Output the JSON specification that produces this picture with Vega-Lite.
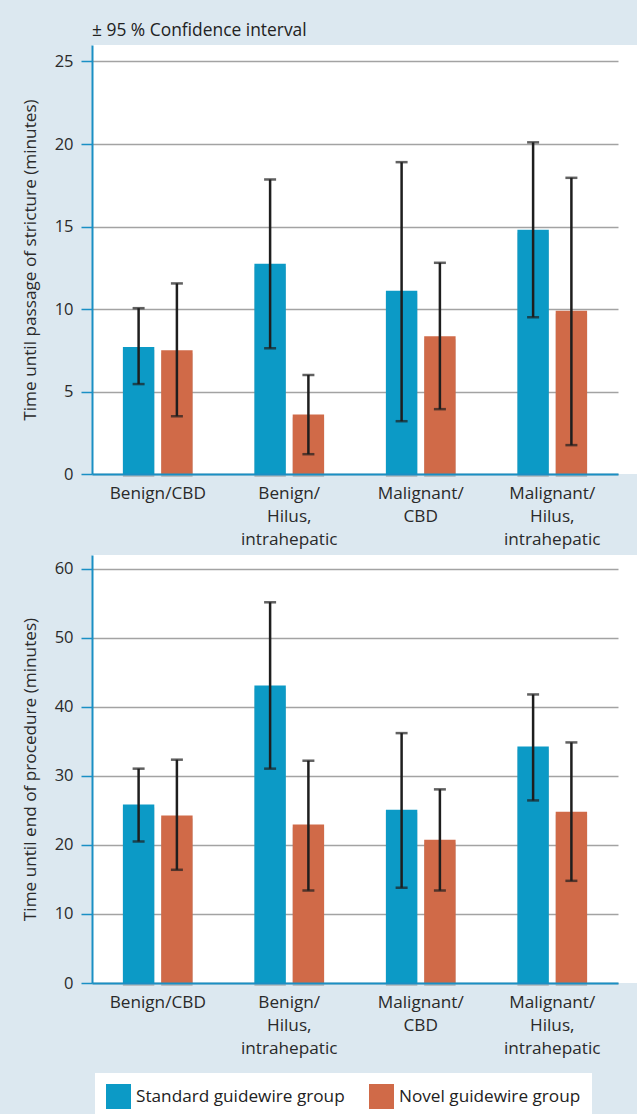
{
  "$schema": "https://vega.github.io/schema/vega-lite/v6.json",
  "background": "#dce8f0",
  "padding": {"left": 21, "top": 21, "right": 0, "bottom": 0},
  "datasets": {
    "bars": [
      {"panel": "A", "category": "Benign/CBD", "group": "Standard guidewire group", "mean": 7.7, "low": 5.45, "high": 10.05},
      {"panel": "A", "category": "Benign/CBD", "group": "Novel guidewire group", "mean": 7.5, "low": 3.5, "high": 11.55},
      {"panel": "A", "category": "Benign/\nHilus,\nintrahepatic", "group": "Standard guidewire group", "mean": 12.75, "low": 7.62, "high": 17.85},
      {"panel": "A", "category": "Benign/\nHilus,\nintrahepatic", "group": "Novel guidewire group", "mean": 3.6, "low": 1.2, "high": 6.0},
      {"panel": "A", "category": "Malignant/\nCBD", "group": "Standard guidewire group", "mean": 11.1, "low": 3.2, "high": 18.9},
      {"panel": "A", "category": "Malignant/\nCBD", "group": "Novel guidewire group", "mean": 8.35, "low": 3.93, "high": 12.8},
      {"panel": "A", "category": "Malignant/\nHilus,\nintrahepatic", "group": "Standard guidewire group", "mean": 14.8, "low": 9.5, "high": 20.1},
      {"panel": "A", "category": "Malignant/\nHilus,\nintrahepatic", "group": "Novel guidewire group", "mean": 9.9, "low": 1.75, "high": 17.95},
      {"panel": "B", "category": "Benign/CBD", "group": "Standard guidewire group", "mean": 25.85, "low": 20.5, "high": 31.05},
      {"panel": "B", "category": "Benign/CBD", "group": "Novel guidewire group", "mean": 24.25, "low": 16.4, "high": 32.35},
      {"panel": "B", "category": "Benign/\nHilus,\nintrahepatic", "group": "Standard guidewire group", "mean": 43.1, "low": 31.05, "high": 55.15},
      {"panel": "B", "category": "Benign/\nHilus,\nintrahepatic", "group": "Novel guidewire group", "mean": 22.95, "low": 13.4, "high": 32.2},
      {"panel": "B", "category": "Malignant/\nCBD", "group": "Standard guidewire group", "mean": 25.1, "low": 13.8, "high": 36.2},
      {"panel": "B", "category": "Malignant/\nCBD", "group": "Novel guidewire group", "mean": 20.75, "low": 13.4, "high": 28.05},
      {"panel": "B", "category": "Malignant/\nHilus,\nintrahepatic", "group": "Standard guidewire group", "mean": 34.25, "low": 26.45, "high": 41.8},
      {"panel": "B", "category": "Malignant/\nHilus,\nintrahepatic", "group": "Novel guidewire group", "mean": 24.8, "low": 14.8, "high": 34.85}
    ]
  },
  "spacing": 81,
  "bounds": "flush",
  "vconcat": [
    {
      "width": 545,
      "height": 429,
      "title": {"text": "± 95 % Confidence interval", "anchor": "start", "frame": "group", "offset": 7, "dy": 15, "baseline": "alphabetic", "fontSize": 17.4, "fontWeight": "normal", "color": "#222222", "font": "Open Sans"},
      "data": {"name": "bars"},
      "transform": [{"filter": "datum.panel === 'A'"}],
      "encoding": {
        "x": {"field": "category", "type": "nominal", "sort": ["Benign/CBD", "Benign/\nHilus,\nintrahepatic", "Malignant/\nCBD", "Malignant/\nHilus,\nintrahepatic"],
              "scale": {"range": [0, 526], "paddingInner": 0.47, "paddingOuter": 0.235},
              "axis": {"title": null, "labelAngle": 0, "ticks": false, "labelExpr": "split(datum.label, '\\n')", "labelLineHeight": 23, "labelPadding": 10, "labelFontSize": 17.2, "zindex": 1}},
        "xOffset": {"field": "group", "type": "nominal", "sort": ["Standard guidewire group", "Novel guidewire group"], "scale": {"paddingInner": 0.18, "paddingOuter": 0}}
      },
      "layer": [
        {"mark": {"type": "bar", "color": "#8c8c8c", "opacity": 0.45, "xOffset": 3, "yOffset": 3},
         "encoding": {"y": {"field": "mean", "type": "quantitative"}}},
        {"mark": {"type": "bar"},
         "encoding": {
           "y": {"field": "mean", "type": "quantitative", "scale": {"domain": [0, 26], "nice": false},
                 "axis": {"title": "Time until passage of stricture (minutes)", "values": [0, 5, 10, 15, 20, 25]}},
           "color": {"field": "group", "type": "nominal", "sort": ["Standard guidewire group", "Novel guidewire group"],
                     "scale": {"range": ["#0c9ac6", "#d06a48"]},
                     "legend": {"title": null, "orient": "none", "legendX": 3, "legendY": 1028, "direction": "horizontal"}}
         }},
        {"mark": {"type": "rule", "color": "#1e1e1e", "strokeWidth": 2.5},
         "encoding": {"y": {"field": "low", "type": "quantitative"}, "y2": {"field": "high"}}},
        {"mark": {"type": "tick", "color": "#1e1e1e", "size": 12, "thickness": 2.5},
         "encoding": {"y": {"field": "low", "type": "quantitative"}}},
        {"mark": {"type": "tick", "color": "#1e1e1e", "size": 12, "thickness": 2.5},
         "encoding": {"y": {"field": "high", "type": "quantitative"}}}
      ]
    },
    {
      "width": 545,
      "height": 428,
      "data": {"name": "bars"},
      "transform": [{"filter": "datum.panel === 'B'"}],
      "encoding": {
        "x": {"field": "category", "type": "nominal", "sort": ["Benign/CBD", "Benign/\nHilus,\nintrahepatic", "Malignant/\nCBD", "Malignant/\nHilus,\nintrahepatic"],
              "scale": {"range": [0, 526], "paddingInner": 0.47, "paddingOuter": 0.235},
              "axis": {"title": null, "labelAngle": 0, "ticks": false, "labelExpr": "split(datum.label, '\\n')", "labelLineHeight": 23, "labelPadding": 10, "labelFontSize": 17.2, "zindex": 1}},
        "xOffset": {"field": "group", "type": "nominal", "sort": ["Standard guidewire group", "Novel guidewire group"], "scale": {"paddingInner": 0.18, "paddingOuter": 0}}
      },
      "layer": [
        {"mark": {"type": "bar", "color": "#8c8c8c", "opacity": 0.45, "xOffset": 3, "yOffset": 3},
         "encoding": {"y": {"field": "mean", "type": "quantitative"}}},
        {"mark": {"type": "bar"},
         "encoding": {
           "y": {"field": "mean", "type": "quantitative", "scale": {"domain": [0, 62], "nice": false},
                 "axis": {"title": "Time until end of procedure (minutes)", "values": [0, 10, 20, 30, 40, 50, 60]}},
           "color": {"field": "group", "type": "nominal", "sort": ["Standard guidewire group", "Novel guidewire group"],
                     "scale": {"range": ["#0c9ac6", "#d06a48"]},
                     "legend": {"title": null, "orient": "none", "legendX": 3, "legendY": 1028, "direction": "horizontal"}}
         }},
        {"mark": {"type": "rule", "color": "#1e1e1e", "strokeWidth": 2.5},
         "encoding": {"y": {"field": "low", "type": "quantitative"}, "y2": {"field": "high"}}},
        {"mark": {"type": "tick", "color": "#1e1e1e", "size": 12, "thickness": 2.5},
         "encoding": {"y": {"field": "low", "type": "quantitative"}}},
        {"mark": {"type": "tick", "color": "#1e1e1e", "size": 12, "thickness": 2.5},
         "encoding": {"y": {"field": "high", "type": "quantitative"}}}
      ]
    }
  ],
  "resolve": {"scale": {"color": "shared", "x": "independent", "y": "independent"}},
  "config": {
    "font": "Open Sans",
    "view": {"fill": "white", "stroke": null},
    "axis": {
      "labelFont": "Open Sans", "labelFontSize": 16.5, "labelColor": "#2a2a2a",
      "titleFont": "Open Sans", "titleFontSize": 17.2, "titleFontWeight": "normal", "titleColor": "#2a2a2a",
      "domainColor": "#1a8fc4", "domainWidth": 2, "tickColor": "#1a8fc4", "tickWidth": 1.5, "tickSize": 11,
      "labelPadding": 8, "titlePadding": 14.5,
      "gridColor": "#a3a3a3", "gridWidth": 1.5
    },
    "axisX": {"grid": false},
    "axisY": {"grid": true},
    "legend": {
      "fillColor": "white", "padding": 11, "symbolType": "square", "symbolSize": 625, "symbolStrokeWidth": 0, "symbolOpacity": 1,
      "labelFont": "Open Sans", "labelFontSize": 17.2, "labelColor": "#222222", "labelOffset": 5, "columnPadding": 24, "gridAlign": "all", "labelLimit": 400
    }
  }
}
